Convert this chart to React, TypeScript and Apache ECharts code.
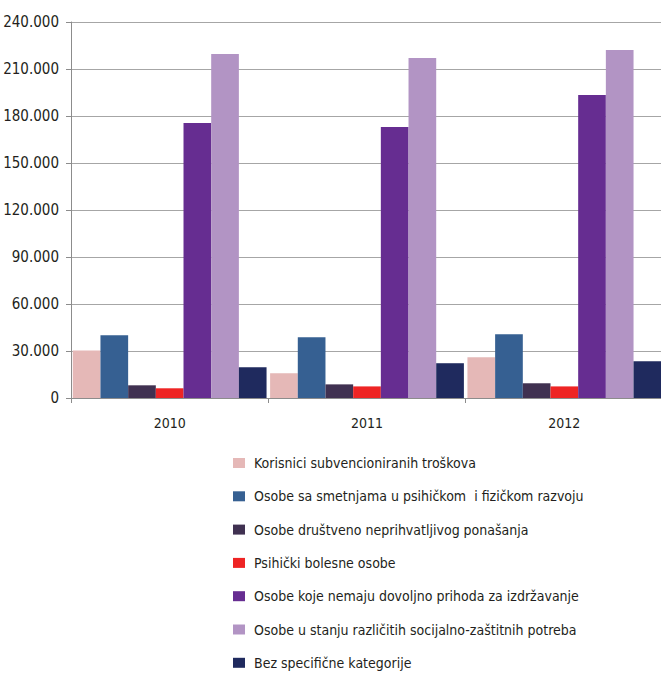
import React, { useEffect, useRef } from "react";
import * as echarts from "echarts";

const years = ["2010", "2011", "2012"];
const seriesNames = [
  "Korisnici subvencioniranih troškova",
  "Osobe sa smetnjama u psihičkom  i fizičkom razvoju",
  "Osobe društveno neprihvatljivog ponašanja",
  "Psihički bolesne osobe",
  "Osobe koje nemaju dovoljno prihoda za izdržavanje",
  "Osobe u stanju različitih socijalno-zaštitnih potreba",
  "Bez specifične kategorije",
];
const korisnici = [30300, 15800, 26000];
const smetnje = [40000, 38800, 40700];
const drustveno = [8100, 8700, 9400];
const psihicki = [6200, 7400, 7400];
const prihodi = [175500, 172900, 193400];
const potrebe = [219600, 217000, 222100];
const bezKategorije = [19600, 22200, 23400];
const seriesValues = [korisnici, smetnje, drustveno, psihicki, prihodi, potrebe, bezKategorije];
const colors = ["#E5B8B7", "#366092", "#403151", "#EE2424", "#662D91", "#B294C4", "#1F2A5E"];
const yTicks = [0, 30000, 60000, 90000, 120000, 150000, 180000, 210000, 240000];

const FONT = "'DejaVu Sans Condensed', 'Liberation Sans Narrow', sans-serif";

function fmt(v: number): string {
  if (v === 0) return "0";
  const th = Math.floor(v / 1000);
  const rest = String(v % 1000).padStart(3, "0");
  return th + "." + rest;
}

export default function App() {
  const ref = useRef<HTMLDivElement>(null);
  useEffect(() => {
    if (!ref.current) return;
    const chart = echarts.init(ref.current, undefined, { renderer: "svg" });
    chart.setOption({
      animation: false,
      backgroundColor: "#ffffff",
      color: colors,
      grid: { left: 71, top: 22, width: 592, height: 376, containLabel: false, outerBoundsMode: "none" },
      xAxis: {
        type: "category",
        data: years,
        axisLine: { lineStyle: { color: "#8C8C8C", width: 1 } },
        axisTick: { show: true, length: 5, lineStyle: { color: "#8C8C8C" } },
        axisLabel: { color: "#231F20", fontFamily: FONT, fontSize: 14, margin: 18 },
      },
      yAxis: {
        type: "value",
        min: yTicks[0],
        max: yTicks[yTicks.length - 1],
        interval: yTicks[1] - yTicks[0],
        axisLine: { show: true, lineStyle: { color: "#8C8C8C", width: 1 } },
        axisTick: { show: true, length: 5, lineStyle: { color: "#8C8C8C" } },
        splitLine: { lineStyle: { color: "#A6A6A6", width: 1 } },
        axisLabel: {
          color: "#231F20",
          fontFamily: FONT,
          fontSize: 15,
          margin: 12,
          formatter: (v: number) => fmt(v),
        },
      },
      legend: {
        type: "plain",
        orient: "vertical",
        left: 228,
        top: 449,
        height: 224,
        itemWidth: 12,
        itemHeight: 10,
        itemGap: 15.3,
        icon: "rect",
        data: seriesNames,
        textStyle: { color: "#231F20", fontFamily: FONT, fontSize: 14, lineHeight: 18, padding: [0, 0, 0, 4] },
      },
      series: seriesNames.map((name, i) => ({
        name,
        type: "bar",
        data: seriesValues[i],
        barGap: "0%",
        barCategoryGap: "1.8%",
        itemStyle: { color: colors[i] },
      })),
    });
    return () => chart.dispose();
  }, []);
  return (
    <div
      ref={ref}
      style={{ position: "absolute", left: 0, top: 0, width: 661, height: 675 }}
    />
  );
}
